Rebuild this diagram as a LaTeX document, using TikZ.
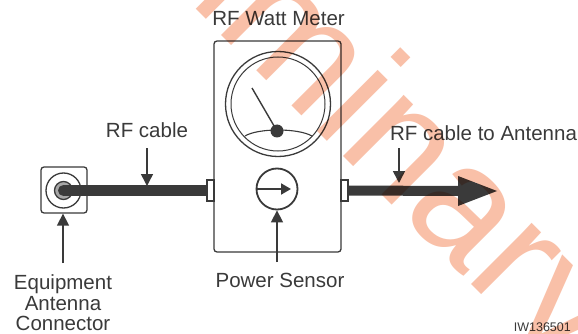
\documentclass[tikz,border=0pt]{standalone}
\usepackage{fontspec}
\setmainfont{Liberation Sans}
\usetikzlibrary{arrows.meta}
\definecolor{ink}{HTML}{3A3A3A}
\definecolor{wm}{HTML}{F9C0A8}
\tikzset{
  lbl/.style={text=ink,font=\fontsize{20.5}{22}\selectfont,inner sep=0pt,align=center},
  outline/.style={draw=ink,line width=1.3pt,fill=white},
  pointer/.style={draw=ink,line width=1.5pt,-{Triangle[length=12pt,width=12pt]}},
}
\begin{document}
\begin{tikzpicture}[x=1pt,y=-1pt]
\useasboundingbox (0,0) rectangle (578,334);
\fill[white] (0,0) rectangle (578,334);
% meter
\node[lbl] (title) at (278.5,19) {RF Watt Meter};
\node[outline,rounded corners=3pt,minimum width=127pt,minimum height=211pt,inner sep=0pt] (meter) at (277.5,146.5) {};
\node[outline,minimum width=7pt,minimum height=21pt,inner sep=0pt] (tabL) at (210.5,190.5) {};
\node[outline,minimum width=7pt,minimum height=21pt,inner sep=0pt] (tabR) at (344.5,190.5) {};
\node[outline,circle,minimum size=105pt,inner sep=0pt] (dial) at (278,104) {};
\node[draw=ink,line width=1pt,circle,minimum size=94pt,inner sep=0pt] (dialin) at (278,104) {};
\coordinate (arcL) at (245,136);
\coordinate (arcR) at (312,136);
\draw[ink,line width=1.1pt] (arcL) .. controls (258,128) and (298,128) .. (arcR);
\node[fill=ink,circle,minimum size=13pt,inner sep=0pt] (hub) at (277,131) {};
\coordinate (needle) at (252,88);
\draw[ink,line width=1.4pt] (hub.center) -- (needle);
\node[outline,circle,line width=1.8pt,minimum size=41pt,inner sep=0pt] (sensor) at (277,189) {};
\draw[ink,line width=2pt,-{Triangle[length=10pt,width=11pt]}] (sensor.west) -- (291,189) coordinate (sensTip);
% connector
\node[outline,rounded corners=3pt,minimum width=46pt,minimum height=46pt,inner sep=0pt] (jack) at (64,190) {};
\node[draw=ink,line width=1.3pt,circle,minimum size=35pt,inner sep=0pt] (ring) at (63.5,190.5) {};
\node[draw=ink,fill=gray!70,line width=1.3pt,circle,minimum size=18pt,inner sep=0pt] (core) at (63.5,190.5) {};
\draw[ink,line width=11pt] (core.center) -- (tabL.west);
\fill[ink] (core.center) circle (5.5pt);
% output cable
\coordinate (headBase) at (458,191);
\coordinate (headTip) at (497,191);
\draw[ink,line width=10pt] (tabR.east) -- (headBase);
\fill[ink] (458,176) -- (headTip) -- (458,206) -- cycle;
% labels and pointers
\node[lbl] (lblL) at (147,130) {RF cable};
\coordinate (ptrL) at (147,148);
\draw[pointer] (ptrL) -- (147,186);
\node[lbl] (lblR) at (483.5,133) {RF cable to Antenna};
\coordinate (ptrR) at (399,148);
\draw[pointer] (ptrR) -- (399,183);
\node[lbl] (lblS) at (280,280) {Power Sensor};
\coordinate (ptrS) at (277,262);
\draw[pointer] (ptrS) -- (sensor.south);
\node[lbl,font=\fontsize{20.5}{20.6}\selectfont] (lblE) at (63,303) {Equipment\\Antenna\\Connector};
\coordinate (ptrE) at (63,263);
\draw[pointer] (ptrE) -- (jack.south -| ptrE);
\node[text=ink,font=\fontsize{12.5}{15}\selectfont,inner sep=0pt,anchor=east] (iw) at (571,327) {IW136501};
% watermark
\begin{scope}[blend mode=multiply]
\node[text=wm,font=\fontsize{163}{166}\selectfont,inner sep=0pt,rotate=-45,anchor=base west] (wmk) at (-17,-203.5) {Preliminary};
\end{scope}
\end{tikzpicture}
\end{document}
